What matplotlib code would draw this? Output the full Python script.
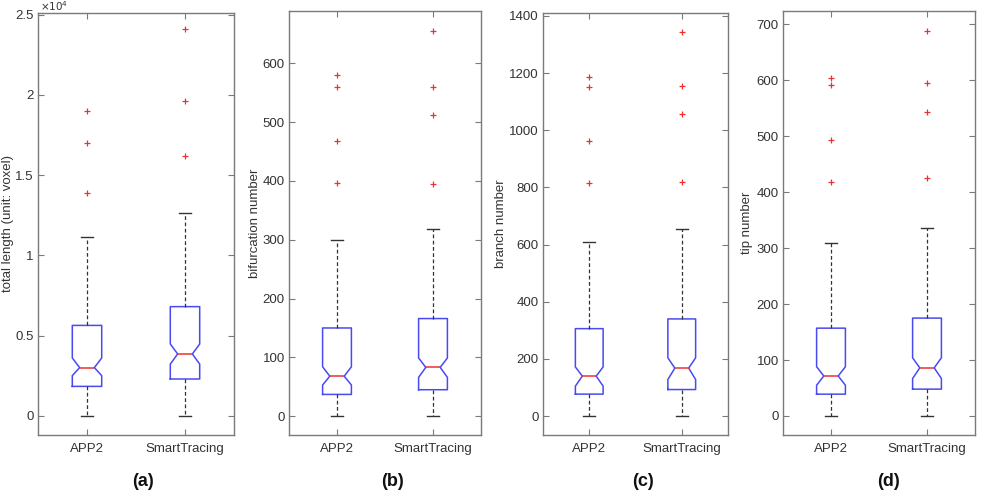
# BOXPLOTS - TRACING COMPARISON

import numpy as np
import matplotlib
matplotlib.use('Agg')
import matplotlib.pyplot as plt

plt.rcParams['font.family'] = ['Liberation Sans', 'DejaVu Sans']

# DATA
methods = ['APP2', 'SmartTracing']
ylabels = ['total length (unit: voxel)', 'bifurcation number', 'branch number', 'tip number']
panel_tags = ['(a)', '(b)', '(c)', '(d)']

# total length (voxels)
len_q1 = [1830, 2290]
len_med = [3000, 3850]
len_q3 = [5630, 6800]
len_hi = [11160, 12660]
len_lo = [0, 0]
len_ci = [(2500, 3600), (3220, 4470)]
len_fliers = [[19000, 17000, 13900], [24100, 19600, 16200]]

# bifurcation number
bif_q1 = [37, 45]
bif_med = [68, 83]
bif_q3 = [150, 166]
bif_hi = [299, 318]
bif_lo = [0, 0]
bif_ci = [(53, 84), (66, 99)]
bif_fliers = [[580, 560, 468, 396], [655, 560, 513, 395]]

# branch number
br_q1 = [77, 93]
br_med = [140, 168]
br_q3 = [306, 340]
br_hi = [610, 654]
br_lo = [0, 0]
br_ci = [(105, 172), (128, 204)]
br_fliers = [[1185, 1150, 961, 816], [1344, 1155, 1057, 820]]

# tip number
tip_q1 = [39, 48]
tip_med = [71.5, 86]
tip_q3 = [157, 175]
tip_hi = [310, 336]
tip_lo = [0, 0]
tip_ci = [(55, 88), (67, 104)]
tip_fliers = [[604, 591, 494, 419], [688, 595, 543, 425]]

W, H = 989, 496
# axes boxes in pixels: left, right, top, bottom
boxes_px = [(38, 234, 13, 435), (289, 481, 11, 435), (543, 728, 13, 435), (783, 975, 11, 435)]
ylims = [(-0.12, 2.51), (-32, 689), (-66, 1410), (-34, 724)]
yticks = [np.arange(0, 2.6, 0.5), np.arange(0, 601, 100), np.arange(0, 1401, 200), np.arange(0, 701, 100)]
label_off_px = [24, 28, 36, 30]   # gap from axes edge to the label's right side
tag_x_px = [143, 393, 643, 889]

panels = [
    (len_q1, len_med, len_q3, len_lo, len_hi, len_ci, len_fliers, 1e4),
    (bif_q1, bif_med, bif_q3, bif_lo, bif_hi, bif_ci, bif_fliers, 1),
    (br_q1, br_med, br_q3, br_lo, br_hi, br_ci, br_fliers, 1),
    (tip_q1, tip_med, tip_q3, tip_lo, tip_hi, tip_ci, tip_fliers, 1),
]

BLUE = '#4a4af0'
RED = '#f03030'
SPINE = '#7a7a7a'
TXT = '#333333'

fig = plt.figure(figsize=(W / 100, H / 100), dpi=100)

for i, (q1, med, q3, lo, hi, ci, fl, sc) in enumerate(panels):
    l, r, t, b = boxes_px[i]
    ax = fig.add_axes([l / W, (H - b) / H, (r - l) / W, (b - t) / H])

    stats = []
    for k in range(2):
        stats.append(dict(med=med[k] / sc, q1=q1[k] / sc, q3=q3[k] / sc,
                          whislo=lo[k] / sc, whishi=hi[k] / sc,
                          cilo=ci[k][0] / sc, cihi=ci[k][1] / sc,
                          fliers=np.array(fl[k]) / sc))

    ax.bxp(stats, positions=[1, 2], widths=0.3, capwidths=0.13, shownotches=True,
           boxprops=dict(color=BLUE, linewidth=1.1),
           medianprops=dict(color=RED, linewidth=1.1),
           whiskerprops=dict(color='#333333', linewidth=0.9, linestyle=(0, (3, 2))),
           capprops=dict(color='#333333', linewidth=1.0),
           flierprops=dict(marker='+', markeredgecolor=RED, markersize=5, markeredgewidth=0.9,
                           linestyle='none'))

    ax.set_xlim(0.5, 2.5)
    ax.set_ylim(*ylims[i])
    ax.set_yticks(yticks[i])
    ax.set_yticklabels(['%g' % v for v in yticks[i]])
    ax.set_xticks([1, 2])
    ax.set_xticklabels(methods)

    ax.tick_params(direction='in', top=True, right=True, length=4, width=0.8,
                   color=SPINE, labelcolor=TXT, labelsize=9.5)
    ax.tick_params(axis='y', pad=3)
    ax.tick_params(axis='x', pad=6)
    for s in ax.spines.values():
        s.set_color(SPINE)
        s.set_linewidth(1.0)

    ax.set_ylabel(ylabels[i], fontsize=9.5, color=TXT)
    ax.yaxis.set_label_coords(-label_off_px[i] / (r - l), 0.5)

    if sc != 1:
        ax.text(0.01, 1.0, r'$\times 10^4$', transform=ax.transAxes, ha='left', va='bottom',
                fontsize=7.5, color=TXT)

    fig.text(tag_x_px[i] / W, 1 - 482 / H, panel_tags[i], ha='center', va='center',
             fontsize=13, fontweight='bold', color='#111111')

fig.savefig('out.png', dpi=100)
